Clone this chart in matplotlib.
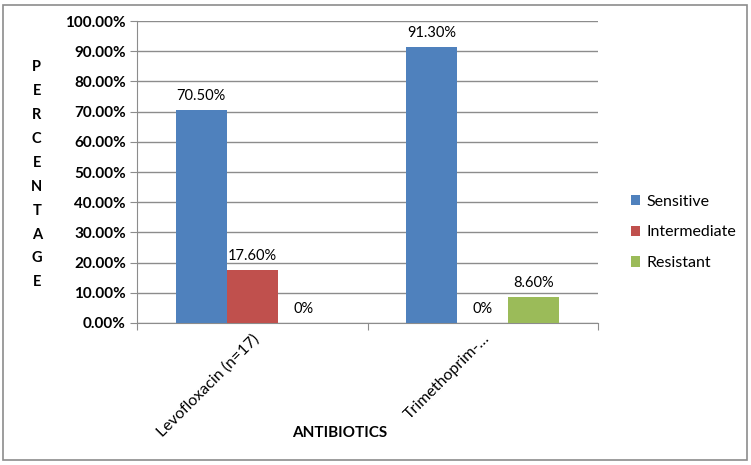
import matplotlib.pyplot as plt
import numpy as np

categories = ['Levofloxacin (n=17)', 'Trimethoprim-…']
series = ['Sensitive', 'Intermediate', 'Resistant']
sensitive = [70.5, 91.3]
intermediate = [17.6, 0.0]
resistant = [0.0, 8.6]
labels = [['70.50%', '91.30%'], ['17.60%', '0%'], ['0%', '8.60%']]
colors = ['#4F81BD', '#C0504D', '#9BBB59']

plt.rcParams['font.family'] = ['Lato', 'DejaVu Sans']

fig = plt.figure(figsize=(7.51, 4.65), dpi=100)
ax = fig.add_axes([0.1824, 0.3054, 0.6139, 0.6494])

x = np.arange(len(categories))
w = 0.221
for i, (vals, col) in enumerate(zip([sensitive, intermediate, resistant], colors)):
    pos = x + (i - 1) * w
    ax.bar(pos, vals, width=w, color=col, label=series[i], zorder=3)
    for p, v, t in zip(pos, vals, labels[i]):
        ax.annotate(t, (p, v), xytext=(0, 5), textcoords='offset points',
                    ha='center', va='bottom', fontsize=10.5, color='black')

ax.set_xlim(-0.5, 1.5)
ax.set_ylim(0, 100)
ax.set_yticks(np.arange(0, 101, 10))
ax.set_yticklabels(['%.2f%%' % v for v in np.arange(0, 101, 10)], fontsize=11, fontweight='bold')
ax.yaxis.grid(True, color='#8c8c8c', linewidth=1, zorder=0)
ax.set_axisbelow(True)

ax.set_xticks([-0.5, 0.5, 1.5], minor=False)
ax.set_xticklabels([])
ax.set_xticks(x, minor=True)
ax.set_xticklabels(categories, minor=True, rotation=45, ha='right', rotation_mode='anchor', fontsize=11.5)
ax.tick_params(axis='x', which='minor', length=0, pad=6)
ax.tick_params(axis='x', which='major', length=5, color='#8c8c8c', direction='out')
ax.tick_params(axis='y', length=5, color='#8c8c8c', pad=3)

for s in ['top', 'right']:
    ax.spines[s].set_visible(False)
for s in ['left', 'bottom']:
    ax.spines[s].set_color('#8c8c8c')

ax.set_xlabel('ANTIBIOTICS', fontsize=11, fontweight='bold')
ax.xaxis.set_label_coords(0.44, -0.34)

fig.text(0.049, 0.624, '\n'.join('PERCENTAGE'), ha='center', va='center',
         fontsize=10.5, fontweight='bold', linespacing=1.9)

ax.legend(loc='center left', bbox_to_anchor=(1.04, 0.30), frameon=False,
          fontsize=11.5, handlelength=0.6, handleheight=0.6, labelspacing=1.05,
          handletextpad=0.35)

border = plt.Rectangle((0.004, 0.01), 0.991, 0.98, transform=fig.transFigure,
                       fill=False, edgecolor='#8c8c8c', linewidth=1.2)
fig.patches.append(border)

fig.savefig('out.png', dpi=100)
